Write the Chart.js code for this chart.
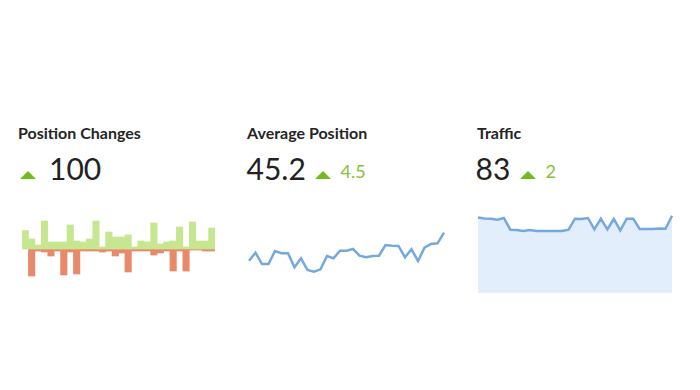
<!DOCTYPE html>
<html><head><meta charset="utf-8">
<script src="https://cdn.jsdelivr.net/npm/chart.js@4"></script>
<style>
html,body{margin:0;padding:0;background:#fff;width:700px;height:390px;overflow:hidden;font-family:Lato,"Open Sans",sans-serif;}
.t{position:absolute;font-size:16px;font-weight:700;color:#252525;line-height:1.2;white-space:nowrap;}
.big{position:absolute;font-size:30px;font-weight:400;color:#222;line-height:1.2;white-space:nowrap;}
.sm{position:absolute;font-size:18px;font-weight:400;color:#86c13a;line-height:1.2;white-space:nowrap;}
.tri{position:absolute;width:0;height:0;border-left:8px solid transparent;border-right:8px solid transparent;border-bottom:8px solid #72bb1e;}
canvas{position:absolute;}
</style></head>
<body>
<div class="t" style="left:18px;top:122.5px">Position Changes</div>
<div class="tri" style="left:20px;top:171px"></div>
<div class="big" style="left:49px;top:150.4px">100</div>

<div class="t" style="left:247px;top:122.5px">Average Position</div>
<div class="big" style="left:246.5px;top:150.4px">45.2</div>
<div class="tri" style="left:315px;top:171px"></div>
<div class="sm" style="left:340.5px;top:160.5px">4.5</div>

<div class="t" style="left:477px;top:122.5px">Traffic</div>
<div class="big" style="left:475.5px;top:150.4px">83</div>
<div class="tri" style="left:519.5px;top:171px"></div>
<div class="sm" style="left:545.5px;top:160.5px">2</div>

<canvas id="c1" width="193" height="60" style="left:22px;top:219px"></canvas>
<canvas id="c2" width="201" height="66" style="left:246px;top:217px"></canvas>
<canvas id="c3" width="200" height="93" style="left:475px;top:200px"></canvas>
<script>
const days = Array.from({length:31},(_,i)=>String(i+1));
const barDays = days.slice(0,30);
const positionUp = [18,10,4,28,7,7,7,24,8,7,10,28,2,17,12,12,14,2,8,7,26,5,7,8,22,2,27,8,8,21];
const positionDown = [0,-27,-2,-3,-7,-2,-26,-3,-25,-2,-2,-2,-3,-2,-7,-4,-23,-2,-2,-2,-6,-4,-2,-22,-2,-22,-1,-1,-2,-2];
const averagePosition = [19.3,27.3,16,16,29,26.7,26.7,12.7,21.7,10,8.3,10.7,24,21.7,29.3,29.3,31,24.3,22.7,24,24.3,35,34.3,34,22.7,30.7,19,32.3,36,36.7,47.3];
const traffic = [75.6,74.6,74.3,73.3,75,63.3,63,62,63,62,62,62,62,62,63.3,74.3,74,75,63.6,74.3,63.6,74,62.6,74.3,74.3,64,64,64,64.6,64.3,77.3];

const common = {responsive:false,animation:false,plugins:{legend:{display:false},tooltip:{enabled:false}},events:[]};

new Chart(document.getElementById('c1'),{
  type:'bar',
  data:{labels:barDays,datasets:[
    {data:positionUp,backgroundColor:'#c6e68f',borderWidth:0,barPercentage:1,categoryPercentage:1},
    {data:positionDown,backgroundColor:'#e8896a',borderWidth:0,barPercentage:1,categoryPercentage:1}
  ]},
  options:{...common,layout:{padding:0},scales:{x:{display:false,stacked:true},y:{display:false,stacked:true,min:-30,max:30}}}
});

new Chart(document.getElementById('c2'),{
  type:'line',
  data:{labels:days,datasets:[{data:averagePosition,borderColor:'#76a8e0',borderWidth:2.5,pointRadius:0,tension:0,fill:false}]},
  options:{...common,layout:{padding:3},scales:{x:{display:false},y:{display:false,min:0,max:60}}}
});

new Chart(document.getElementById('c3'),{
  type:'line',
  data:{labels:days,datasets:[{data:traffic,borderColor:'#76a8e0',backgroundColor:'#e2eefb',borderWidth:2.5,pointRadius:0,tension:0,fill:'origin'}]},
  options:{...common,layout:{padding:{left:3,right:3,top:3,bottom:0}},scales:{x:{display:false},y:{display:false,min:0,max:90}}}
});
</script>
</body></html>
